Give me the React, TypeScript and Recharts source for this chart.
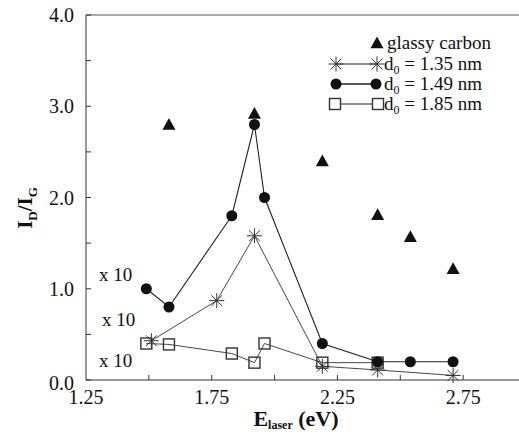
import React from 'react';
import { ScatterChart, Scatter, XAxis, YAxis, ReferenceLine } from 'recharts';

const glassyX = [1.58, 1.92, 2.19, 2.41, 2.54, 2.71];
const glassyY = [2.8, 2.92, 2.4, 1.81, 1.57, 1.22];

const d135X = [1.51, 1.77, 1.92, 2.19, 2.41, 2.71];
const d135Y = [0.43, 0.87, 1.58, 0.15, 0.11, 0.05];

const d149X = [1.49, 1.58, 1.83, 1.92, 1.96, 2.19, 2.41, 2.54, 2.71];
const d149Y = [1.0, 0.8, 1.8, 2.8, 2.0, 0.4, 0.2, 0.2, 0.2];

const d185X = [1.49, 1.58, 1.83, 1.92, 1.96, 2.19, 2.41];
const d185Y = [0.4, 0.39, 0.29, 0.19, 0.4, 0.19, 0.19];

const xTicks = [1.25, 1.5, 1.75, 2.0, 2.25, 2.5, 2.75, 3.0];
const xLabeled = [1.25, 1.75, 2.25, 2.75];
const yTicks = [0, 0.5, 1, 1.5, 2, 2.5, 3, 3.5, 4];
const yLabeled = [0, 1, 2, 3, 4];

const legendItems = ['glassy carbon', '1.35 nm', '1.49 nm', '1.85 nm'];
const factorLabels = ['x 10', 'x 10', 'x 10'];

const toPts = (xs: number[], ys: number[]) => xs.map((x, i) => ({ x, y: ys[i] }));

const FONT = "'Liberation Serif', 'Times New Roman', 'DejaVu Serif', serif";
const INK = '#111';
const fs = (size: number, bold = false): React.CSSProperties => ({
  fontFamily: FONT,
  fontSize: size,
  fontWeight: bold ? 'bold' : 'normal',
});

const Tri = (p: any) => {
  const { cx, cy } = p;
  const s = 6.5;
  return <polygon points={`${cx},${cy - s} ${cx - s},${cy + s * 0.8} ${cx + s},${cy + s * 0.8}`} fill={INK} />;
};
const Dot = (p: any) => <circle cx={p.cx} cy={p.cy} r={5.5} fill={INK} />;
const Sq = (p: any) => (
  <rect x={p.cx - 5.5} y={p.cy - 5.5} width={11} height={11} fill="none" stroke="#333" strokeWidth={1.4} />
);
const Star = (p: any) => {
  const { cx, cy } = p;
  const r = 7.5;
  const d = r * 0.72;
  return (
    <g stroke="#333" strokeWidth={1}>
      <line x1={cx - r} y1={cy} x2={cx + r} y2={cy} />
      <line x1={cx} y1={cy - r} x2={cx} y2={cy + r} />
      <line x1={cx - d} y1={cy - d} x2={cx + d} y2={cy + d} />
      <line x1={cx - d} y1={cy + d} x2={cx + d} y2={cy - d} />
    </g>
  );
};

const YTick = (p: any) => {
  const { x, y, payload } = p;
  const v = payload.value;
  const lab = yLabeled.some((t) => Math.abs(t - v) < 1e-6);
  return (
    <g>
      <line x1={x} y1={y} x2={x + 5} y2={y} stroke="#333" />
      {lab && (
        <text x={x - 12} y={y + 7 + (v === 0 ? 3 : 0)} textAnchor="end" style={fs(20)} fill={INK}>
          {v.toFixed(1)}
        </text>
      )}
    </g>
  );
};

const XTick = (p: any) => {
  const { x, y, payload } = p;
  const v = payload.value;
  const lab = xLabeled.some((t) => Math.abs(t - v) < 1e-6);
  return (
    <g>
      {v > 1.26 && <line x1={x} y1={y} x2={x} y2={y - 5} stroke="#333" />}
      {lab && (
        <text x={x} y={y + 24} textAnchor="middle" style={fs(20)} fill={INK}>
          {v.toFixed(2)}
        </text>
      )}
    </g>
  );
};

export default function App() {
  const lineStyle = { stroke: '#333', strokeWidth: 0.9 };
  return (
    <div style={{ position: 'absolute', left: 0, top: 0, width: 519, height: 434, overflow: 'hidden', background: '#fff' }}>
      <ScatterChart width={526} height={434} margin={{ top: 15, right: 0, bottom: 0, left: 0 }}>
        <XAxis
          type="number"
          dataKey="x"
          domain={[1.25, 3.0]}
          ticks={xTicks}
          tick={<XTick />}
          tickLine={false}
          tickSize={0}
          tickMargin={0}
          height={54}
          axisLine={{ stroke: '#333' }}
          allowDataOverflow
          interval={0}
        />
        <YAxis
          type="number"
          dataKey="y"
          domain={[0, 4]}
          ticks={yTicks}
          tick={<YTick />}
          tickLine={false}
          tickSize={0}
          tickMargin={0}
          width={86}
          axisLine={{ stroke: '#333' }}
          interval={0}
        />
        <ReferenceLine y={4} stroke="#555" strokeWidth={1.2} />
        <Scatter data={toPts(glassyX, glassyY)} shape={<Tri />} isAnimationActive={false} />
        <Scatter data={toPts(d185X, d185Y)} shape={<Sq />} line={lineStyle} lineType="joint" isAnimationActive={false} />
        <Scatter data={toPts(d135X, d135Y)} shape={<Star />} line={lineStyle} lineType="joint" isAnimationActive={false} />
        <Scatter data={toPts(d149X, d149Y)} shape={<Dot />} line={{ stroke: '#222', strokeWidth: 1.1 }} lineType="joint" isAnimationActive={false} />
      </ScatterChart>
      <svg width={519} height={434} style={{ position: 'absolute', left: 0, top: 0, pointerEvents: 'none' }}>
        <g style={fs(19)} fill={INK}>
          <Tri cx={377} cy={43} />
          <text x={387} y={49}>{legendItems[0]}</text>
          <line x1={336} y1={64} x2={377} y2={64} stroke="#222" />
          <Star cx={336} cy={64} />
          <Star cx={377} cy={64} />
          <text x={384} y={70}>d<tspan style={{ fontSize: 12 }} dy={4}>0</tspan><tspan dy={-4}>{' = ' + legendItems[1]}</tspan></text>
          <line x1={336} y1={84} x2={376} y2={84} stroke="#222" strokeWidth={1.4} />
          <Dot cx={336} cy={84} />
          <Dot cx={376} cy={84} />
          <text x={384} y={90}>d<tspan style={{ fontSize: 12 }} dy={4}>0</tspan><tspan dy={-4}>{' = ' + legendItems[2]}</tspan></text>
          <line x1={340} y1={104} x2={373} y2={104} stroke="#222" />
          <Sq cx={335} cy={104} />
          <Sq cx={378} cy={104} />
          <text x={384} y={110}>d<tspan style={{ fontSize: 12 }} dy={4}>0</tspan><tspan dy={-4}>{' = ' + legendItems[3]}</tspan></text>
        </g>
        <g style={fs(19)} fill={INK}>
          <text x={99} y={281}>{factorLabels[0]}</text>
          <text x={102} y={326}>{factorLabels[1]}</text>
          <text x={99} y={367}>{factorLabels[2]}</text>
        </g>
        <text x={296} y={426} textAnchor="middle" style={fs(22, true)} fill={INK}>
          E<tspan style={{ fontSize: 12 }} dy={3}>laser</tspan><tspan dy={-3}> (eV)</tspan>
        </text>
        <text transform="translate(32,208) rotate(-90)" textAnchor="middle" style={fs(21, true)} fill={INK}>
          I<tspan style={{ fontSize: 13 }} dy={5}>D</tspan><tspan dy={-5}>/I</tspan><tspan style={{ fontSize: 13 }} dy={5}>G</tspan>
        </text>
      </svg>
    </div>
  );
}
